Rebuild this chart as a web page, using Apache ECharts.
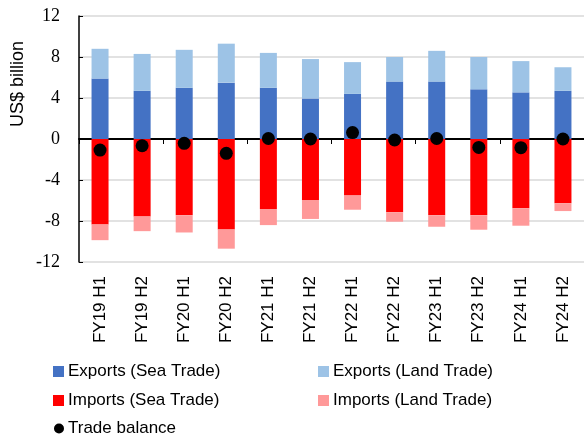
<!DOCTYPE html>
<html>
<head>
<meta charset="utf-8">
<script src="https://cdn.jsdelivr.net/npm/echarts@6/dist/echarts.min.js"></script>
<style>
  html, body { margin: 0; padding: 0; background: #fff; }
  #chart { width: 584px; height: 438px; }
</style>
</head>
<body>
<div id="chart"></div>
<script>
  // data (US$ billion)
  var categories = ['FY19 H1','FY19 H2','FY20 H1','FY20 H2','FY21 H1','FY21 H2',
                    'FY22 H1','FY22 H2','FY23 H1','FY23 H2','FY24 H1','FY24 H2'];
  var exportsSea  = [5.9, 4.7, 5.0, 5.5, 5.0, 3.95, 4.4, 5.6, 5.6, 4.85, 4.55, 4.7];
  var exportsLand = [2.9, 3.6, 3.7, 3.8, 3.4, 3.85, 3.1, 2.4, 3.0, 3.15, 3.05, 2.3];
  var importsSea  = [-8.33, -7.55, -7.45, -8.82, -6.83, -5.95, -5.5, -7.15, -7.45, -7.45, -6.76, -6.27];
  var importsLand = [-1.54, -1.44, -1.67, -1.88, -1.57, -1.85, -1.4, -0.92, -1.11, -1.4, -1.7, -0.76];
  var tradeBalance = [-1.08, -0.66, -0.42, -1.4, 0.05, 0, 0.63, -0.1, 0.05, -0.82, -0.85, 0];
  var yTicks = [-12, 12, 4]; // min, max, interval

  var sans = 'Liberation Sans';
  var mychart = echarts.init(document.getElementById('chart'));

  function legendItem(name, left, top, icon, size) {
    return {
      data: [name],
      left: left,
      top: top,
      icon: icon,
      itemWidth: size,
      itemHeight: size,
      itemGap: 0,
      textStyle: { fontFamily: sans, fontSize: 17, color: '#000', padding: [0, 0, 0, -1] }
    };
  }

  mychart.setOption({
    animation: false,
    grid: { left: 79, right: -4, top: 16, bottom: 176 },
    legend: [
      legendItem('Exports (Sea Trade)', 48, 358, 'rect', 11),
      legendItem('Exports (Land Trade)', 313, 358, 'rect', 11),
      legendItem('Imports (Sea Trade)', 48, 387, 'rect', 11),
      legendItem('Imports (Land Trade)', 313, 387, 'rect', 11),
      legendItem('Trade balance', 49, 415, 'circle', 10)
    ],
    graphic: [{
      type: 'text',
      x: 18, y: 84,
      rotation: Math.PI / 2,
      style: {
        text: 'US$ billion',
        font: '18px "' + sans + '"',
        fill: '#000',
        align: 'center',
        verticalAlign: 'middle'
      }
    }],
    xAxis: [
      {
        type: 'category',
        data: categories,
        position: 'bottom',
        axisLine: { show: false, onZero: false },
        axisTick: { show: false },
        axisLabel: {
          rotate: 90,
          margin: 14,
          fontFamily: sans,
          fontSize: 17,
          color: '#000'
        }
      },
      {
        type: 'category',
        data: categories,
        axisLine: { show: true, onZero: true, lineStyle: { color: '#000', width: 2 } },
        axisTick: { show: true, inside: true, length: 5, lineStyle: { color: '#000', width: 1 } },
        axisLabel: { show: false }
      }
    ],
    yAxis: {
      type: 'value',
      min: yTicks[0],
      max: yTicks[1],
      interval: yTicks[2],
      axisLine: { show: true, lineStyle: { color: '#000', width: 1.5 } },
      axisTick: { show: true, inside: true, length: 4, lineStyle: { color: '#000' } },
      splitLine: { lineStyle: { color: '#d9d9d9', width: 1.5 } },
      axisLabel: {
        margin: 19,
        fontFamily: 'Liberation Serif',
        fontSize: 18,
        color: '#000'
      }
    },
    series: [
      { name: 'Exports (Sea Trade)', type: 'bar', stack: 'trade', barWidth: 17,
        itemStyle: { color: '#4472C4' }, data: exportsSea },
      { name: 'Exports (Land Trade)', type: 'bar', stack: 'trade', barWidth: 17,
        itemStyle: { color: '#9DC3E6' }, data: exportsLand },
      { name: 'Imports (Sea Trade)', type: 'bar', stack: 'trade', barWidth: 17,
        itemStyle: { color: '#FF0000' }, data: importsSea },
      { name: 'Imports (Land Trade)', type: 'bar', stack: 'trade', barWidth: 17,
        itemStyle: { color: '#FF9999' }, data: importsLand },
      { name: 'Trade balance', type: 'scatter', symbolSize: 13, z: 5,
        itemStyle: { color: '#000', opacity: 1 }, data: tradeBalance }
    ]
  });
</script>
</body>
</html>
